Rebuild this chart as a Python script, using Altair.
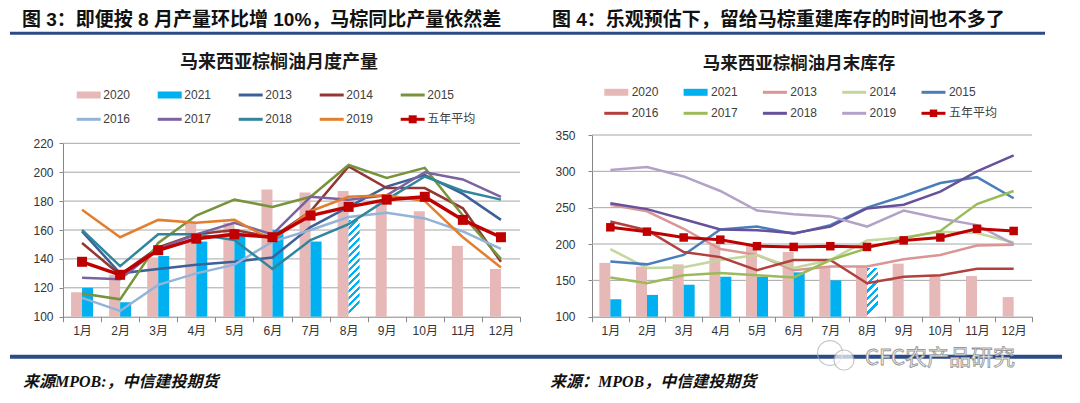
import altair as alt
import pandas as pd

# ---------------- data ----------------
months = [f"{i}月" for i in range(1, 13)]
bar_series = ["2020", "2021"]
line_years = ["2013", "2014", "2015", "2016", "2017", "2018", "2019"]

# Malaysian palm oil monthly production (10k t)
prod_2020 = [117, 129, 141, 165, 165, 188, 186, 187, 181, 173, 149, 133]
prod_2021 = [120, 110, 142, 152, 157, 160, 152]
prod_2021_aug_est = 167
prod_2013 = [159, 130, 133, 136, 138, 141, 162, 176, 190, 198, 185, 167]
prod_2014 = [151, 129, 148, 157, 160, 155, 173, 204, 189, 189, 175, 138]
prod_2015 = [116, 112, 151, 170, 181, 176, 183, 205, 196, 203, 170, 140]
prod_2016 = [113, 104, 122, 130, 136, 152, 160, 169, 172, 168, 159, 147]
prod_2017 = [127, 126, 147, 157, 165, 157, 183, 181, 184, 200, 195, 183]
prod_2018 = [160, 135, 157, 157, 153, 133, 153, 164, 181, 197, 187, 181]
prod_2019 = [174, 155, 167, 165, 167, 153, 173, 183, 184, 180, 155, 134]
prod_avg = [138, 129, 146, 154, 157, 155, 170, 176, 181, 183, 167, 155]
prod_ticks = [100, 120, 140, 160, 180, 200, 220]

# Malaysian palm oil month-end stocks (10k t)
stock_2020 = [174, 169, 172, 201, 198, 189, 168, 169, 173, 157, 156, 127]
stock_2021 = [124, 130, 144, 155, 155, 161, 150]
stock_2021_aug_est = 167
stock_2013 = [254, 245, 221, 193, 185, 164, 169, 169, 179, 185, 198, 199]
stock_2014 = [193, 167, 168, 178, 185, 167, 178, 205, 209, 217, 215, 202]
stock_2015 = [176, 172, 185, 220, 224, 214, 226, 250, 266, 284, 292, 263]
stock_2016 = [231, 219, 189, 182, 164, 178, 178, 146, 155, 157, 166, 166]
stock_2017 = [154, 146, 157, 160, 157, 154, 178, 194, 208, 218, 255, 273]
stock_2018 = [256, 248, 234, 220, 219, 215, 224, 249, 254, 272, 300, 322]
stock_2019 = [302, 306, 293, 273, 246, 241, 238, 224, 246, 235, 226, 200]
stock_avg = [223, 217, 209, 206, 197, 196, 197, 196, 205, 209, 221, 218]
stock_ticks = [100, 150, 200, 250, 300, 350]

# ---------------- styles ----------------
W, H = 1064, 387
CJK = "Noto Sans CJK SC"
NUM = "Liberation Sans, Noto Sans CJK SC"
SERIF = "Liberation Serif, Noto Sans CJK SC"
PINK = "#E6B9B8"
CYAN = "#00B0F0"
RED = "#C00000"
NAVY = "#2B4B87"
AXC = "#868686"
GRIDC = "#A6A6A6"
LABC = "#333333"

left_colors = ["#3B6198", "#943634", "#77933C", "#95B3D7", "#7B62A0", "#31859C", "#E27F2E"]
right_colors = ["#D99694", "#C3D69B", "#4A7EBB", "#B2413E", "#9BBB59", "#66519A", "#B3A2C7"]


def one(**cols):
    return pd.DataFrame({k: [v] for k, v in cols.items()})


def txt(s, x, y, size, weight="normal", align="left", color="#111111", font=CJK,
        style="normal", baseline="middle", **kw):
    return alt.Chart(one(t=s)).mark_text(
        align=align, baseline=baseline, fontSize=size, fontWeight=weight,
        font=font, fontStyle=style, color=color, **kw
    ).encode(text="t:N", x=alt.value(x), y=alt.value(y))


def hline(x1, x2, y, width, color):
    return alt.Chart(one(a=0)).mark_rule(strokeWidth=width, color=color).encode(
        x=alt.value(x1), x2=alt.value(x2), y=alt.value(y))


def hatch_gradient(aspect, n):
    stops = []
    for k in range(n):
        a, b, c = k / n, (k + 0.45) / n, (k + 1) / n
        stops += [alt.GradientStop(offset=a, color=CYAN), alt.GradientStop(offset=b, color=CYAN),
                  alt.GradientStop(offset=b, color="#FFFFFF"), alt.GradientStop(offset=c, color="#FFFFFF")]
    return alt.LinearGradient(gradient="linear", stops=stops, x1=0, y1=0, x2=aspect, y2=1)


def legend(entries, sym_x, txt_x, dx, rows_y, sym_len, sq):
    layers = []
    for i, (name, kind, color) in enumerate(entries):
        col, row = i % 5, i // 5
        x0 = sym_x + col * dx
        y = rows_y[row]
        sw = 7 if kind == "bar" else 3
        layers.append(hline(x0, x0 + sym_len, y, sw, color))
        if kind == "avg":
            layers.append(alt.Chart(one(a=0)).mark_square(size=sq, color=color, opacity=1).encode(
                x=alt.value(x0 + sym_len / 2), y=alt.value(y)))
        layers.append(txt(name, txt_x + col * dx, y, 12, color="#404040", font=NUM))
    return layers


def panel(b2020, b2021, aug_est, series_vals, avg, colors, ticks,
          x0, x1, ybot, ytop, ymin, ymax, pad_outer, lab_pad, grad, line_w, avg_w, sq):
    xs = alt.Scale(domain=months, range=[x0, x1], paddingInner=0, paddingOuter=0)
    ys = alt.Scale(domain=[ymin, ymax], range=[ybot, ytop], nice=False, zero=False)
    xos = alt.Scale(domain=bar_series, paddingInner=0, paddingOuter=pad_outer)
    ax_x = alt.Axis(orient="bottom", offset=ybot - H, tickBand="extent", labelAngle=0, title=None,
                    grid=False, domainColor=AXC, tickColor=AXC, tickSize=5, labelFont=NUM,
                    labelFontSize=12, labelColor=LABC, labelPadding=4)
    ax_y = alt.Axis(orient="left", offset=-x0, values=ticks, title=None, grid=False,
                    domainColor=AXC, tickColor=AXC, tickSize=4, labelFont=NUM,
                    labelFontSize=12, labelColor=LABC, labelPadding=lab_pad)
    X = alt.X("month:N", scale=xs, axis=ax_x, sort=months)

    df_bars = pd.DataFrame(
        [{"month": months[i], "series": "2020", "value": v} for i, v in enumerate(b2020)] +
        [{"month": months[i], "series": "2021", "value": v} for i, v in enumerate(b2021)])
    df_est = pd.DataFrame([{"month": months[len(b2021)], "series": "2021", "value": aug_est}])
    rows = []
    for yr, vals in zip(line_years, series_vals):
        for i, v in enumerate(vals):
            rows.append({"month": months[i], "mi": i, "series": yr, "value": v})
    df_lines = pd.DataFrame(rows)
    df_avg = pd.DataFrame({"month": months, "mi": list(range(12)), "value": avg})
    df_grid = pd.DataFrame({"v": ticks[1:]})

    grid = alt.Chart(df_grid).mark_rule(color=GRIDC, strokeWidth=1).encode(
        y=alt.Y("v:Q", scale=ys, axis=ax_y), x=alt.value(x0), x2=alt.value(x1))
    bars = alt.Chart(df_bars).mark_bar().encode(
        x=X, xOffset=alt.XOffset("series:N", scale=xos),
        y=alt.Y("value:Q", scale=ys, axis=ax_y), y2=alt.datum(ymin),
        fill=alt.Fill("series:N", scale=alt.Scale(domain=bar_series, range=[PINK, CYAN]), legend=None))
    est = alt.Chart(df_est).mark_bar(color=grad).encode(
        x=X, xOffset=alt.XOffset("series:N", scale=xos),
        y=alt.Y("value:Q", scale=ys, axis=ax_y), y2=alt.datum(ymin))
    lines = alt.Chart(df_lines).mark_line(strokeWidth=line_w).encode(
        x=X, y=alt.Y("value:Q", scale=ys, axis=ax_y),
        stroke=alt.Stroke("series:N", scale=alt.Scale(domain=line_years, range=colors), legend=None),
        order=alt.Order("mi:Q"))
    avg_line = alt.Chart(df_avg).mark_line(strokeWidth=avg_w, color=RED).encode(
        x=X, y=alt.Y("value:Q", scale=ys, axis=ax_y), order=alt.Order("mi:Q"))
    avg_pts = alt.Chart(df_avg).mark_square(size=sq, color=RED, opacity=1).encode(
        x=X, y=alt.Y("value:Q", scale=ys, axis=ax_y))
    return alt.layer(grid, bars, est, lines, avg_line, avg_pts)


left = panel(prod_2020, prod_2021, prod_2021_aug_est,
             [prod_2013, prod_2014, prod_2015, prod_2016, prod_2017, prod_2018, prod_2019],
             prod_avg, left_colors, prod_ticks,
             55, 512, 308.7, 135.3, 100, 220, 0.73, 6, hatch_gradient(0.114, 14), 2.5, 3.5, 100)
right = panel(stock_2020, stock_2021, stock_2021_aug_est,
              [stock_2013, stock_2014, stock_2015, stock_2016, stock_2017, stock_2018, stock_2019],
              stock_avg, right_colors, stock_ticks,
              584, 1024, 308.7, 127, 100, 350, 0.667, 13, hatch_gradient(0.226, 7), 2.5, 3, 72)

decor = [
    txt("图 3：即便按 8 月产量环比增 10%，马棕同比产量依然差", 14, 2.5, 19, weight="bold",
        baseline="top", font=NUM),
    txt("图 4：乐观预估下，留给马棕重建库存的时间也不多了", 544, 2.5, 19, weight="bold",
        baseline="top", font=NUM),
    hline(2, 1037, 25.3, 3, NAVY),
    hline(2, 1054, 348.7, 4, NAVY),
    txt("马来西亚棕榈油月度产量", 271, 55, 18, weight="bold", align="center", color="#1a1a1a"),
    txt("马来西亚棕榈油月末库存", 791, 55.5, 17.5, weight="bold", align="center", color="#1a1a1a"),
    txt("来源MPOB:，中信建投期货", 15, 373.7, 16, weight="bold", style="italic", font=SERIF),
    txt("来源：MPOB，中信建投期货", 542, 373.7, 16, weight="bold", style="italic", font=SERIF),
]

left_entries = [("2020", "bar", PINK), ("2021", "bar", CYAN)] + \
    [(y, "line", c) for y, c in zip(line_years, left_colors)] + [("五年平均", "avg", RED)]
right_entries = [("2020", "bar", PINK), ("2021", "bar", CYAN)] + \
    [(y, "line", c) for y, c in zip(line_years, right_colors)] + [("五年平均", "avg", RED)]
decor += legend(left_entries, 68.7, 95.3, 81, [87, 111.3], 24, 64)
decor += legend(right_entries, 596.3, 623.7, 79.3, [84.3, 105.3], 24, 56)

watermark = [
    alt.Chart(one(a=0)).mark_point(shape="circle", size=620, color="#B0B0B0", strokeWidth=1.2,
                                   filled=False).encode(x=alt.value(822), y=alt.value(345)),
    alt.Chart(one(a=0)).mark_point(shape="circle", size=400, color="#B0B0B0", strokeWidth=1.2,
                                   fill="#FFFFFF", filled=True, stroke="#B0B0B0").encode(
        x=alt.value(836), y=alt.value(352)),
    txt("CFC农产品研究", 857, 349.5, 22, color="#FFFFFF", stroke="#9A9A9A", strokeWidth=0.9),
]

chart = alt.layer(left, right, *decor, *watermark).resolve_scale(
    x="independent", y="independent", xOffset="independent", fill="independent", stroke="independent"
).resolve_axis(x="independent", y="independent").properties(
    width=W, height=H, autosize=alt.AutoSizeParams(type="none"), padding=0
).configure_view(stroke=None)

chart.save("out.html", embed_options={"renderer": "svg", "actions": False})
